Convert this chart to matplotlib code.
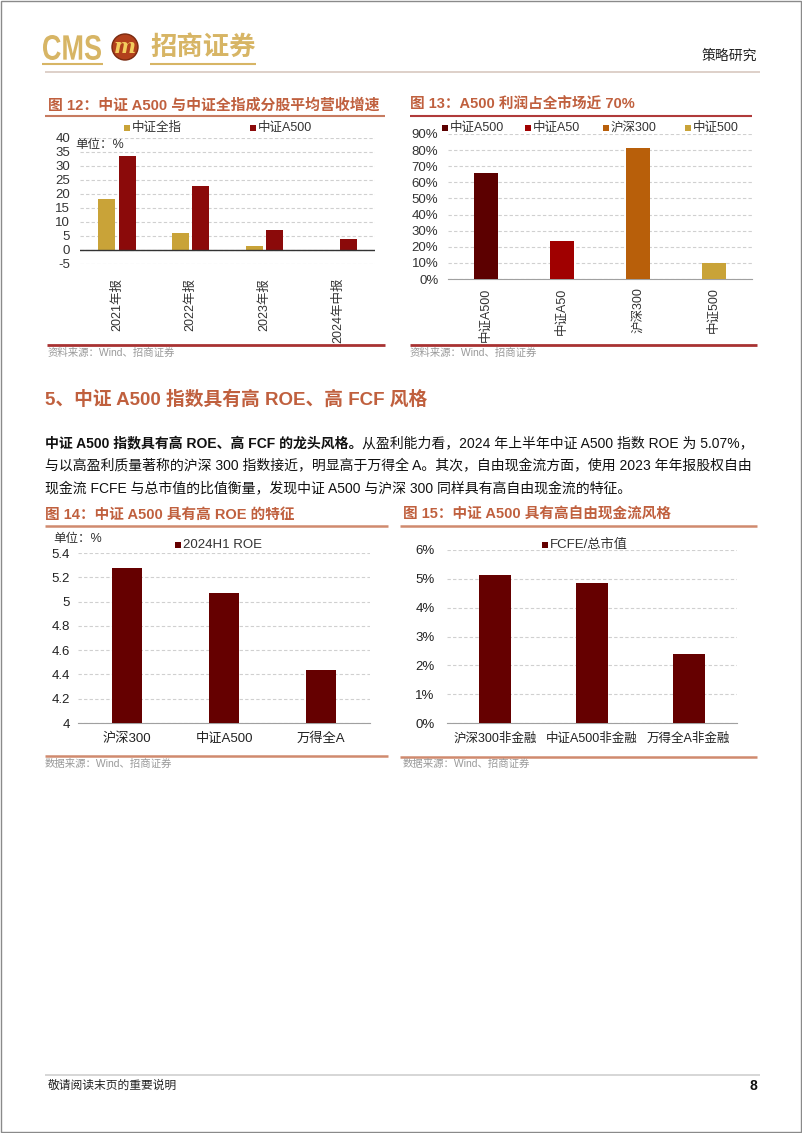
import numpy as np
import matplotlib
matplotlib.use("Agg")
import matplotlib.pyplot as plt
from matplotlib.patches import Rectangle, Circle, PathPatch
from matplotlib.textpath import TextPath
from matplotlib.font_manager import FontProperties
from matplotlib.transforms import Affine2D

# ---------------- data ----------------
cats12 = ['2021年报', '2022年报', '2023年报', '2024年中报']
series12_names = ['中证全指', '中证A500']
quanzhi_growth = [18.3, 6.2, 1.3, -0.4]
a500_growth = [33.6, 23.0, 7.0, 4.0]
yticks12 = [-5, 0, 5, 10, 15, 20, 25, 30, 35, 40]

cats13 = ['中证A500', '中证A50', '沪深300', '中证500']
profit_share = [65.6, 23.6, 81.2, 10.0]
yticks13 = [0, 10, 20, 30, 40, 50, 60, 70, 80, 90]

cats14 = ['沪深300', '中证A500', '万得全A']
roe_2024h1 = [5.28, 5.07, 4.44]
yticks14 = [4, 4.2, 4.4, 4.6, 4.8, 5, 5.2, 5.4]
ytick_labels14 = ['4', '4.2', '4.4', '4.6', '4.8', '5', '5.2', '5.4']

cats15 = ['沪深300非金融', '中证A500非金融', '万得全A非金融']
fcfe_ratio = [5.14, 4.86, 2.41]
yticks15 = [0, 1, 2, 3, 4, 5, 6]

# ---------------- style ----------------
FAM = ['Liberation Sans', 'Noto Sans CJK SC', 'DejaVu Sans']
plt.rcParams['font.family'] = FAM
W, H = 802, 1133
fig = plt.figure(figsize=(W / 100, H / 100), dpi=100)

TITLE_C = '#C0603E'
GOLD = '#C9A338'
DRED = '#8B0A0A'
MAROON = '#650000'
GRID_C = '#D0D0D0'
SRC_C = '#9A9A9A'


def add_ax(l, t, r, b):
    return fig.add_axes([l / W, 1 - b / H, (r - l) / W, (b - t) / H])


# overlay axes for page decoration
ov = fig.add_axes([0, 0, 1, 1])
ov.set_xlim(0, W)
ov.set_ylim(H, 0)
ov.axis('off')
ov.set_zorder(-1)


def hline(x0, x1, y, color, lw):
    ov.plot([x0, x1], [y, y], color=color, lw=lw, solid_capstyle='butt')


def text(x, y, s, **kw):
    return ov.text(x, y, s, **kw)


def legend_item(x, y, color, label, size=8.5, sq=6):
    ov.add_patch(Rectangle((x - sq / 2, y - sq / 2), sq, sq, color=color, lw=0))
    text(x + sq / 2 + 2, y, label, fontsize=size, va='center', ha='left', color='#333333')


def fitted_text(s, x0, x1, y_top, y_bot, color, prop):
    tp = TextPath((0, 0), s, size=100, prop=prop)
    bb = tp.get_extents()
    sx = (x1 - x0) / bb.width
    sy = (y_bot - y_top) / bb.height
    tr = Affine2D().translate(-bb.x0, -bb.y0).scale(sx, -sy).translate(x0, y_bot)
    ov.add_patch(PathPatch(tr.transform_path(tp), color=color, lw=0))


# page border
ov.add_patch(Rectangle((0.5, 0.5), W - 1.5, H - 1.5, fill=False, ec='#8A8A8A', lw=1))

# ---------------- header ----------------
LOGO_GOLD = '#D7B565'
fitted_text('CMS', 43, 101, 35, 60, LOGO_GOLD,
            FontProperties(family='Liberation Sans', weight='bold'))
ov.add_patch(Circle((125, 47), 13, color='#B2401C', lw=0))
ov.add_patch(Circle((125, 47), 13, fill=False, ec='#7A2A10', lw=1))
text(125, 47, 'm', fontsize=15, color='#F3CD5E', va='center', ha='center',
     fontweight='bold', style='italic', family=['DejaVu Serif'])
text(150, 47, '招商证券', fontsize=19, color=LOGO_GOLD, va='center', ha='left',
     family=['Noto Sans CJK SC'], fontweight='bold')
hline(42, 103, 64, LOGO_GOLD, 1.5)
hline(150, 256, 64, LOGO_GOLD, 1.5)
text(757, 56, '策略研究', fontsize=10, color='#222222', va='center', ha='right')
hline(45, 760, 72, '#D8C8C0', 1.2)

# ---------------- chart 12 ----------------
text(48, 105, '图 12：中证 A500 与中证全指成分股平均营收增速', fontsize=10.7,
     color=TITLE_C, fontweight='bold', va='center', ha='left')
hline(45, 385, 116, '#C77B60', 1.5)
legend_item(127, 128, GOLD, series12_names[0], size=9)
legend_item(253, 128, DRED, series12_names[1], size=9)
text(75, 145, '单位：%', fontsize=9, color='#333333', va='center', ha='left')

ax = add_ax(80, 138, 375, 264)
x = np.arange(len(cats12))
ax.bar(x - 0.14, quanzhi_growth, width=0.23, color=GOLD, zorder=3)
ax.bar(x + 0.14, a500_growth, width=0.23, color=DRED, zorder=3)
ax.set_xlim(-0.5, len(cats12) - 0.5)
ax.set_ylim(-5, 40)
ax.set_yticks(yticks12)
ax.set_yticklabels([str(v) for v in yticks12])
ax.set_xticks(x)
ax.set_xticklabels(cats12, rotation=90)
ax.yaxis.grid(True, ls=(0, (3, 2)), color=GRID_C, lw=0.8, zorder=0)
ax.axhline(0, color='#333333', lw=1.0, zorder=4)
for s in ax.spines.values():
    s.set_visible(False)
ax.tick_params(axis='y', length=0, labelsize=9.5, pad=7, labelcolor='#333333')
ax.tick_params(axis='x', length=0, labelsize=9, pad=10, labelcolor='#333333')
ax.set_facecolor('none')

hline(47, 385, 345, '#A83232', 2)
text(48, 353, '资料来源：Wind、招商证券', fontsize=7.5, color=SRC_C, va='center', ha='left')

# ---------------- chart 13 ----------------
text(410, 105, '图 13：A500 利润占全市场近 70%', fontsize=10.5,
     color=TITLE_C, fontweight='bold', va='center', ha='left')
hline(410, 752, 116, '#B03A3A', 1.5)
colors13 = ['#5C0000', '#A00000', '#B85F0A', '#C9A338']
for lx, c, lab in zip([445, 528, 606, 688], colors13, cats13):
    legend_item(lx, 128, c, lab, size=9)

ax = add_ax(448, 134, 752, 279)
x = np.arange(len(cats13))
ax.bar(x, profit_share, width=0.32, color=colors13, zorder=3)
ax.set_xlim(-0.5, len(cats13) - 0.5)
ax.set_ylim(0, 90)
ax.set_yticks(yticks13)
ax.set_yticklabels([f'{v}%' for v in yticks13])
ax.set_xticks(x)
ax.set_xticklabels(cats13, rotation=90)
ax.yaxis.grid(True, ls=(0, (3, 2)), color=GRID_C, lw=0.8, zorder=0)
for k, s in ax.spines.items():
    s.set_visible(k == 'bottom')
ax.spines['bottom'].set_color('#A0A0A0')
ax.tick_params(axis='y', length=0, labelsize=9.5, pad=7, labelcolor='#333333')
ax.tick_params(axis='x', length=0, labelsize=9, pad=6, labelcolor='#333333')
ax.set_facecolor('none')

hline(410, 757, 345, '#A83232', 2)
text(410, 353, '资料来源：Wind、招商证券', fontsize=7.5, color=SRC_C, va='center', ha='left')

# ---------------- section heading & paragraph ----------------
text(45, 399, '5、中证 A500 指数具有高 ROE、高 FCF 风格', fontsize=13.5,
     color=TITLE_C, fontweight='bold', va='center', ha='left')

PFS = 10
t1 = text(45, 443, '中证 A500 指数具有高 ROE、高 FCF 的龙头风格。', fontsize=PFS,
          color='#111111', fontweight='bold', va='center', ha='left')
ov.annotate('从盈利能力看，2024 年上半年中证 A500 指数 ROE 为 5.07%，',
            xy=(1, 0.5), xycoords=t1, va='center', ha='left',
            fontsize=PFS, color='#111111')
text(45, 466, '与以高盈利质量著称的沪深 300 指数接近，明显高于万得全 A。其次，自由现金流方面，使用 2023 年年报股权自由',
     fontsize=PFS, color='#111111', va='center', ha='left')
text(45, 489, '现金流 FCFE 与总市值的比值衡量，发现中证 A500 与沪深 300 同样具有高自由现金流的特征。',
     fontsize=PFS, color='#111111', va='center', ha='left')

# ---------------- chart 14 ----------------
text(45, 515, '图 14：中证 A500 具有高 ROE 的特征', fontsize=10.5,
     color=TITLE_C, fontweight='bold', va='center', ha='left')
hline(45, 388, 526, '#D08A6E', 1.8)
legend_item(178, 545, MAROON, '2024H1 ROE', size=9.5)
text(53, 539, '单位：%', fontsize=9, color='#333333', va='center', ha='left')

ax = add_ax(78, 553, 370, 723)
x = np.arange(len(cats14))
ax.bar(x, roe_2024h1, width=0.31, color=MAROON, zorder=3)
ax.set_xlim(-0.5, len(cats14) - 0.5)
ax.set_ylim(4, 5.4)
ax.set_yticks(yticks14)
ax.set_yticklabels(ytick_labels14)
ax.set_xticks(x)
ax.set_xticklabels(cats14)
ax.yaxis.grid(True, ls=(0, (3, 2)), color=GRID_C, lw=0.8, zorder=0)
for k, s in ax.spines.items():
    s.set_visible(k == 'bottom')
ax.spines['bottom'].set_color('#A0A0A0')
ax.tick_params(axis='y', length=0, labelsize=9.5, pad=6, labelcolor='#222222')
ax.tick_params(axis='x', length=0, labelsize=9.5, pad=7, labelcolor='#222222')
ax.set_facecolor('none')

hline(45, 388, 756, '#D08A6E', 1.8)
text(45, 764, '数据来源：Wind、招商证券', fontsize=7.5, color=SRC_C, va='center', ha='left')

# ---------------- chart 15 ----------------
text(403, 515, '图 15：中证 A500 具有高自由现金流风格', fontsize=10.5,
     color=TITLE_C, fontweight='bold', va='center', ha='left')
hline(400, 757, 526, '#D08A6E', 1.8)
legend_item(545, 545, MAROON, 'FCFE/总市值', size=9.5)

ax = add_ax(447, 550, 737, 723)
x = np.arange(len(cats15))
ax.bar(x, fcfe_ratio, width=0.33, color=MAROON, zorder=3)
ax.set_xlim(-0.5, len(cats15) - 0.5)
ax.set_ylim(0, 6)
ax.set_yticks(yticks15)
ax.set_yticklabels([f'{v}%' for v in yticks15])
ax.set_xticks(x)
ax.set_xticklabels(cats15)
ax.yaxis.grid(True, ls=(0, (3, 2)), color=GRID_C, lw=0.8, zorder=0)
for k, s in ax.spines.items():
    s.set_visible(k == 'bottom')
ax.spines['bottom'].set_color('#A0A0A0')
ax.tick_params(axis='y', length=0, labelsize=9.5, pad=9, labelcolor='#222222')
ax.tick_params(axis='x', length=0, labelsize=9, pad=7, labelcolor='#222222')
ax.set_facecolor('none')

hline(400, 757, 757, '#D08A6E', 1.8)
text(403, 764, '数据来源：Wind、招商证券', fontsize=7.5, color=SRC_C, va='center', ha='left')

# ---------------- footer ----------------
hline(45, 760, 1075, '#D0D0D0', 1.2)
text(48, 1086, '敬请阅读末页的重要说明', fontsize=8.5, color='#222222', va='center', ha='left')
text(757, 1086, '8', fontsize=10, color='#111111', fontweight='bold', va='center', ha='right')

fig.savefig('out.png', dpi=100)
